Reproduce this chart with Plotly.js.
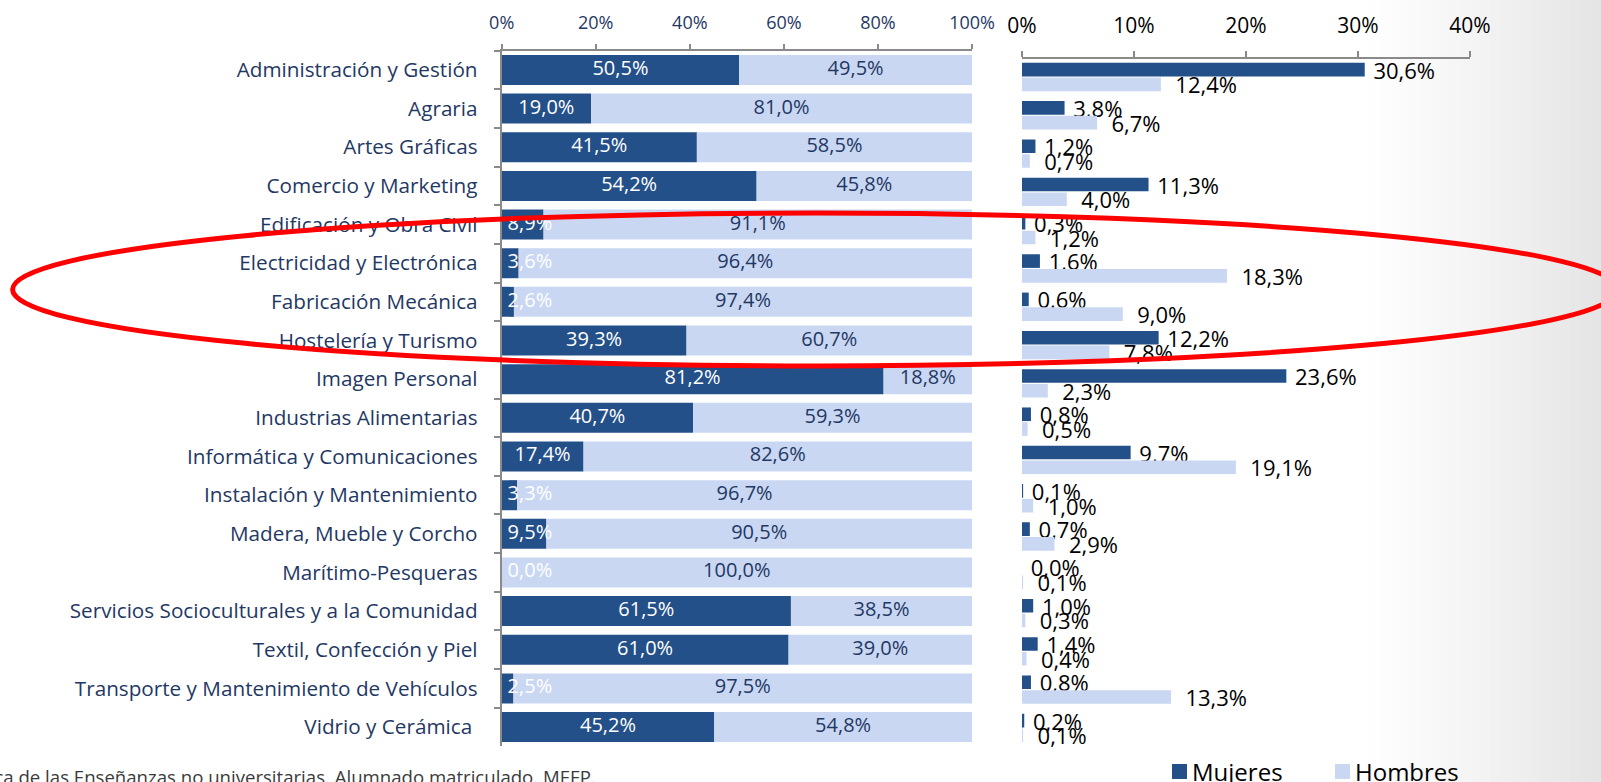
<!DOCTYPE html>
<html>
<head>
<meta charset="utf-8">
<script src="https://cdn.plot.ly/plotly-3.0.1.min.js"></script>
<style>
  html, body { margin: 0; padding: 0; background: #ffffff; }
  #chart { width: 1601px; height: 782px; }
</style>
</head>
<body>
<div id="chart"></div>
<script>
// ---------- DATA ----------
const categories = [
  "Administración y Gestión",
  "Agraria",
  "Artes Gráficas",
  "Comercio y Marketing",
  "Edificación y Obra Civil",
  "Electricidad y Electrónica",
  "Fabricación Mecánica",
  "Hostelería y Turismo",
  "Imagen Personal",
  "Industrias Alimentarias",
  "Informática y Comunicaciones",
  "Instalación y Mantenimiento",
  "Madera, Mueble y Corcho",
  "Marítimo-Pesqueras",
  "Servicios Socioculturales y a la Comunidad",
  "Textil, Confección y Piel",
  "Transporte y Mantenimiento de Vehículos",
  "Vidrio y Cerámica\u00A0"
];
// share of women / men within each professional family (%)
const pctMujeres = [50.5, 19.0, 41.5, 54.2, 8.9, 3.6, 2.6, 39.3, 81.2, 40.7, 17.4, 3.3, 9.5, 0.0, 61.5, 61.0, 2.5, 45.2];
const pctHombres = [49.5, 81.0, 58.5, 45.8, 91.1, 96.4, 97.4, 60.7, 18.8, 59.3, 82.6, 96.7, 90.5, 100.0, 38.5, 39.0, 97.5, 54.8];
// distribution of all women / all men across families (%)
const distMujeres = [30.6, 3.8, 1.2, 11.3, 0.3, 1.6, 0.6, 12.2, 23.6, 0.8, 9.7, 0.1, 0.7, 0.0, 1.0, 1.4, 0.8, 0.2];
const distHombres = [12.4, 6.7, 0.7, 4.0, 1.2, 18.3, 9.0, 7.8, 2.3, 0.5, 19.1, 1.0, 2.9, 0.1, 0.3, 0.4, 13.3, 0.1];
const seriesNames = ["Mujeres", "Hombres"];
const xTicksLeft = [0, 20, 40, 60, 80, 100];
const xTicksRight = [0, 10, 20, 30, 40];
const sourceNote = "Estadística de las Enseñanzas no universitarias. Alumnado matriculado. MEFP.";

// ---------- STYLE ----------
const W = 1601, H = 782;
const DARK = "#245089";
const LIGHT = "#C9D7F2";
const NAVY = "#1F3864";
const AXIS = "#8A8A8A";
const FONT = "Open Sans, Noto Sans, sans-serif";
const NB = "\u00A0";
const px = v => v / W;           // pixel -> paper x
const py = v => 1 - v / H;       // pixel -> paper y
const fmt = v => v.toFixed(1).replace(".", ",") + "%";
const seriesColors = [DARK, LIGHT];

const traces = [
  // left: 100% stacked
  {
    type: "bar", orientation: "h", name: seriesNames[0],
    y: categories, x: pctMujeres, xaxis: "x", yaxis: "y",
    width: 0.776, marker: { color: DARK }, showlegend: false, hoverinfo: "skip"
  },
  {
    type: "bar", orientation: "h", name: seriesNames[1],
    y: categories, x: pctHombres, base: pctMujeres, xaxis: "x", yaxis: "y",
    width: 0.776, marker: { color: LIGHT }, showlegend: false, hoverinfo: "skip"
  },
  {
    type: "scatter", mode: "text", xaxis: "x", yaxis: "y",
    y: categories, x: pctMujeres.map(v => Math.max(v / 2, 6)),
    text: pctMujeres.map(fmt), textposition: "middle center",
    textfont: { family: FONT, size: 20, color: "#FFFFFF" },
    cliponaxis: false, showlegend: false, hoverinfo: "skip"
  },
  {
    type: "scatter", mode: "text", xaxis: "x", yaxis: "y",
    y: categories, x: pctHombres.map((v, i) => pctMujeres[i] + v / 2),
    text: pctHombres.map(fmt), textposition: "middle center",
    textfont: { family: FONT, size: 20, color: NAVY },
    cliponaxis: false, showlegend: false, hoverinfo: "skip"
  },
  // right: grouped distribution
  {
    type: "bar", orientation: "h", name: seriesNames[0],
    y: categories, x: distMujeres, xaxis: "x2", yaxis: "y2",
    offset: -0.37, width: 0.355, marker: { color: DARK },
    text: distMujeres.map(v => NB + fmt(v)), textposition: "outside", textangle: 0,
    constraintext: "none", cliponaxis: false,
    outsidetextfont: { family: FONT, size: 22, color: "#000000" },
    showlegend: false, hoverinfo: "skip"
  },
  {
    type: "bar", orientation: "h", name: seriesNames[1],
    y: categories, x: distHombres, xaxis: "x2", yaxis: "y2",
    offset: 0.015, width: 0.355, marker: { color: LIGHT },
    text: distHombres.map(v => NB + NB + fmt(v)), textposition: "outside", textangle: 0,
    constraintext: "none", cliponaxis: false,
    outsidetextfont: { family: FONT, size: 22, color: "#000000" },
    showlegend: false, hoverinfo: "skip"
  }
];

// background gradient on the right side
const shapes = [];
const gStart = 1360, gEnd = W, nStrips = 24;
for (let i = 0; i < nStrips; i++) {
  const x0 = gStart + (gEnd - gStart) * i / nStrips;
  const x1 = gStart + (gEnd - gStart) * (i + 1) / nStrips + 1;
  const g = Math.round(255 - 27 * Math.pow((i + 0.5) / nStrips, 1.2));
  shapes.push({
    type: "rect", xref: "paper", yref: "paper", layer: "below",
    x0: px(x0), x1: px(x1), y0: 0, y1: 1,
    fillcolor: `rgb(${g},${g},${g})`, line: { width: 0 }
  });
}
// red highlight ellipse
shapes.push({
  type: "circle", xref: "paper", yref: "paper", layer: "above",
  x0: px(12.6), x1: px(1618), y0: py(366), y1: py(213),
  line: { color: "#FF0000", width: 5 }, fillcolor: "rgba(0,0,0,0)"
});

// legend (drawn manually so it does not shrink the plotting area)
const legendX = [1172, 1335];
const annotations = [];
seriesNames.forEach((name, i) => {
  shapes.push({
    type: "rect", xref: "paper", yref: "paper", layer: "above",
    x0: px(legendX[i]), x1: px(legendX[i] + 15), y0: py(779), y1: py(764),
    fillcolor: seriesColors[i], line: { width: 0 }
  });
  annotations.push({
    xref: "paper", yref: "paper", x: px(legendX[i] + 18), y: py(771),
    xanchor: "left", yanchor: "middle", showarrow: false,
    text: name, font: { family: FONT, size: 24, color: "#000000" }
  });
});
annotations.push({
  xref: "paper", yref: "paper", x: px(598), y: py(762),
  xanchor: "right", yanchor: "top", showarrow: false,
  text: sourceNote, font: { family: FONT, size: 18.6, color: "#3A3A3A" }
});

const layout = {
  width: W, height: H,
  margin: { l: 0, r: 0, t: 0, b: 0, pad: 0 },
  paper_bgcolor: "#FFFFFF", plot_bgcolor: "rgba(0,0,0,0)",
  barmode: "overlay",
  font: { family: FONT, color: NAVY },
  showlegend: false,
  xaxis: {
    domain: [px(501.7), px(972)], range: [0, 100], side: "top", anchor: "y",
    tickvals: xTicksLeft, ticktext: xTicksLeft.map(v => v + "%"),
    tickfont: { family: FONT, size: 18, color: NAVY },
    showline: true, linecolor: AXIS, linewidth: 2,
    ticks: "outside", ticklen: 5, tickwidth: 2, tickcolor: AXIS,
    ticklabelstandoff: 7,
    showgrid: false, zeroline: false, fixedrange: true
  },
  yaxis: {
    domain: [py(746.4), py(50.6)], type: "category", categoryarray: categories,
    range: [17.5, -0.5], anchor: "x",
    tickfont: { family: FONT, size: 20.7, color: NAVY },
    showline: true, linecolor: AXIS, linewidth: 2,
    ticks: "outside", tickson: "boundaries", ticklen: 6, tickwidth: 2, tickcolor: AXIS,
    ticklabelstandoff: 18,
    showgrid: false, zeroline: false, fixedrange: true
  },
  xaxis2: {
    domain: [px(1022), px(1470)], range: [0, 40], side: "top", anchor: "y2",
    tickvals: xTicksRight, ticktext: xTicksRight.map(v => v + "%"),
    tickfont: { family: FONT, size: 21, color: "#000000" },
    showline: true, linecolor: AXIS, linewidth: 2,
    ticks: "outside", ticklen: 6, tickwidth: 2, tickcolor: AXIS,
    ticklabelstandoff: 10,
    showgrid: false, zeroline: false, fixedrange: true
  },
  yaxis2: {
    domain: [py(747.5), py(59)], type: "category", categoryarray: categories,
    range: [17.51, -0.47], anchor: "x2",
    showticklabels: false, showline: false, ticks: "",
    showgrid: false, zeroline: false, fixedrange: true
  },
  shapes: shapes,
  annotations: annotations
};

Plotly.newPlot("chart", traces, layout, { displayModeBar: false, staticPlot: true });
</script>
</body>
</html>
